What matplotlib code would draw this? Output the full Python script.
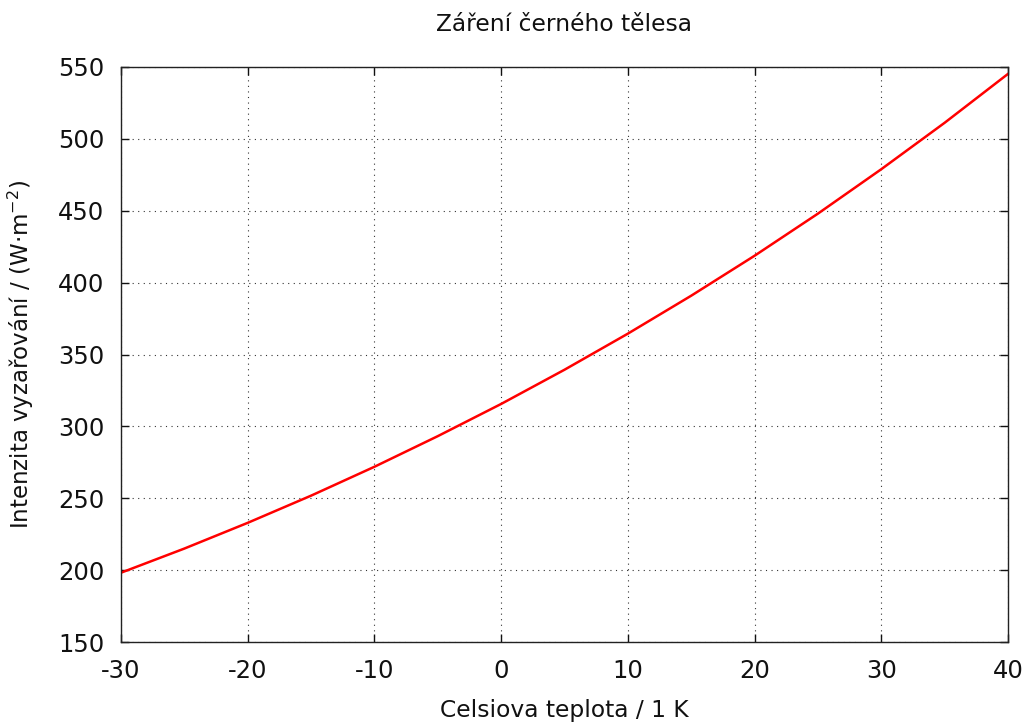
import numpy as np
import matplotlib
matplotlib.use("Agg")
import matplotlib.pyplot as plt

# values, every 5 degrees
temp_c = [-30, -25, -20, -15, -10, -5, 0, 5, 10, 15, 20, 25, 30, 35, 40]
intensity = [198.2, 215.0, 232.9, 251.8, 271.9, 293.2, 315.6, 339.4,
             364.5, 390.9, 418.7, 448.0, 478.9, 511.2, 545.2]

x_ticks = [-30, -20, -10, 0, 10, 20, 30, 40]
y_ticks = [150, 200, 250, 300, 350, 400, 450, 500, 550]

plt.rcParams['font.family'] = ['DejaVu Sans']

fig = plt.figure(figsize=(10.29, 7.22), dpi=100)
ax = fig.add_axes([121 / 1029, 1 - 642 / 722, (1008 - 121) / 1029, (642 - 67) / 722])

ax.plot(temp_c, intensity, color='#ff0000', linewidth=1.8)

ax.set_xlim(-30, 40)
ax.set_ylim(150, 550)
ax.set_xticks(x_ticks)
ax.set_yticks(y_ticks)
ax.set_xticklabels([str(v) for v in x_ticks])
ax.tick_params(direction='in', length=6, width=1, top=True, right=True,
               labelsize=17.5, colors='#111111')
ax.tick_params(axis='x', pad=12)
ax.tick_params(axis='y', pad=12)
ax.grid(True, color='black', linestyle=(0, (1, 4)), linewidth=0.8, alpha=0.8)
for sp in ax.spines.values():
    sp.set_linewidth(1.0)
    sp.set_color('#222222')

ax.set_title('Záření černého tělesa', fontsize=16.8, pad=26, color='#111111')
ax.set_xlabel('Celsiova teplota / 1 K', fontsize=16.8, labelpad=12, color='#111111')
ax.set_ylabel('Intenzita vyzařování / (W·m$^{-2}$)', fontsize=16.5, labelpad=16, color='#111111')

fig.savefig('out.png', dpi=100)
